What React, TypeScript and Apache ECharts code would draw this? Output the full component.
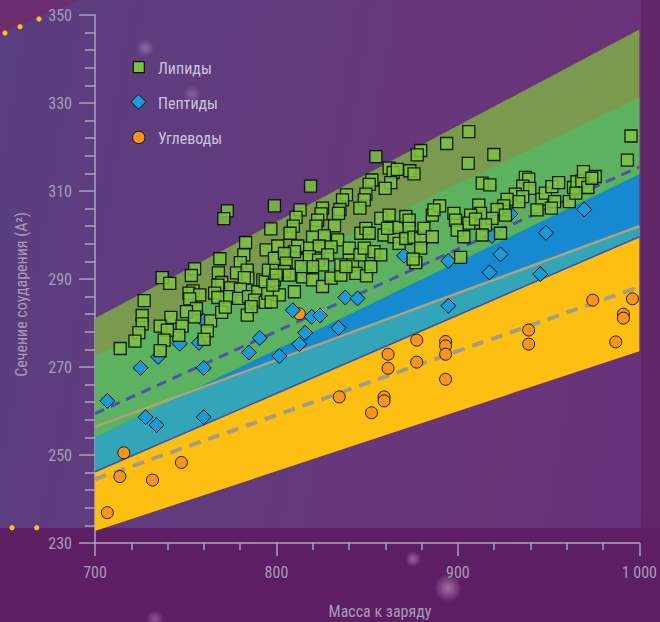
import React, { useEffect, useRef } from 'react';
import * as echarts from 'echarts';

// ---- axis ticks ----
const xTickValues = [700, 800, 900, 1000];
const xTickLabels = ['700', '800', '900', '1 000'];
const yTickValues = [230, 250, 270, 290, 310, 330, 350];

// ---- legend / axis names ----
const seriesNames = ['Липиды', 'Пептиды', 'Углеводы'];
const xAxisName = 'Масса к заряду';
const yAxisName = 'Сечение соударения (А²)';

// ---- bands (values at x = 700 and x = 1000) ----
const bandX = [700, 1000];
const oliveUpper = [281.1, 346.7];
const greenUpper = [272.5, 331.2];
const greenLower = [254.2, 314.0];
const blueUpper = [254.2, 314.0];
const blueLower = [246.2, 299.6];
const tanLine = [256.4, 302.0];
const yellowLower = [232.7, 273.6];

// ---- fit lines ----
const lipidFit = [259.4, 315.5];
const lipidUpperDash = [267.3, 330.5];
const carbFit = [244.5, 288.2];

// ---- points [mass, ccs] ----
const lipids = [
  [772.9,305.5],[771.0,303.7],[798.9,306.6],[796.9,301.4],[783.0,298.3],[782.0,295.5],[780.1,293.7],[768.8,294.6],[754.9,292.3],[753.1,290.8],[737.0,290.3],[741.2,289.0],[768.0,291.4],[778.0,291.4],[783.9,292.0],[784.2,290.2],[782.3,290.3],[769.8,289.2],[767.7,288.6],[754.0,287.3],[751.8,286.8],[757.7,286.4],[752.2,285.5],[727.1,285.1],[765.9,286.8],[767.7,285.8],[774.7,288.0],[774.2,286.0],[780.1,287.7],[779.1,285.6],[784.6,286.0],[789.7,287.1],[787.9,285.2],[793.8,284.7],[795.2,286.8],[801.6,286.4],[792.5,289.8],[793.8,289.4],[798.9,289.8],[795.6,292.0],[799.8,292.4],[794.3,296.6],[800.7,297.5],[798.9,294.7],[755.9,283.3],[750.4,282.6],[754.9,281.4],[741.8,281.3],[748.0,279.3],[746.2,277.2],[735.9,279.3],[739.9,278.4],[738.1,276.1],[735.9,273.7],[726.0,281.7],[726.0,279.8],[724.2,277.8],[722.0,275.9],[713.9,274.2],[763.7,280.5],[769.8,282.4],[771.8,283.6],[761.9,278.2],[760.1,276.3],[783.9,281.8],[786.1,283.7],
  [893.8,320.8],[879.5,319.2],[877.6,318.2],[854.8,317.8],[818.8,311.1],[862.1,315.2],[864.3,314.2],[866.6,314.9],[873.5,314.6],[875.8,313.9],[863.0,311.9],[859.9,310.6],[852.6,312.5],[851.1,311.5],[849.3,309.3],[848.4,308.0],[846.0,306.1],[838.6,309.1],[836.4,308.0],[835.0,305.8],[834.2,304.9],[825.4,306.1],[824.6,304.8],[813.0,305.7],[810.8,304.0],[809.3,302.0],[807.5,300.4],[822.7,303.4],[821.8,302.0],[832.0,302.1],[819.9,299.5],[826.4,299.8],[833.7,298.9],[817.2,297.0],[823.6,297.5],[830.1,297.3],[811.7,297.5],[809.9,296.2],[804.4,295.8],[805.3,293.6],[804.4,291.7],[799.8,290.9],[814.5,290.5],[819.9,289.8],[809.9,287.1],[825.4,288.3],[830.1,290.2],[835.5,290.9],[840.1,294.3],[840.1,297.0],[841.9,293.2],[843.8,291.3],[849.6,290.7],[852.0,292.8],[846.0,295.5],[848.4,297.0],[853.8,296.2],[857.5,295.5],[846.5,300.4],[849.3,301.5],[851.1,300.4],[857.5,303.8],[862.1,304.5],[859.3,300.0],[864.8,299.6],[861.2,301.5],[867.6,301.7],[871.3,304.2],[873.1,303.4],[873.1,301.5],[867.6,298.1],[871.3,299.2],[875.8,299.5],[879.5,299.2],[881.3,301.5],[885.9,299.6],[879.5,297.0],[876.8,293.7],[875.3,294.5],[885.9,304.5],[889.9,306.6],[886.8,305.7],[818.1,295.1],[823.2,294.3],[828.2,295.5],[835.5,293.2],[838.3,292.8],[825.4,293.2],[819.9,292.8],[813.6,292.8],[807.1,290.9],[798.0,288.6],[797.1,284.8],
  [995.4,322.5],[993.4,317.0],[906.0,323.5],[919.8,318.3],[905.7,316.3],[913.4,311.8],[917.6,311.4],[937.2,313.1],[939.0,312.7],[935.7,311.1],[939.6,310.6],[931.7,309.3],[935.7,308.7],[933.5,307.6],[927.1,308.1],[925.3,306.6],[921.6,305.8],[918.8,303.8],[926.2,304.5],[911.5,306.8],[912.5,304.9],[907.0,304.5],[906.0,302.7],[909.7,303.6],[915.2,302.3],[913.4,300.0],[923.5,300.4],[897.8,304.9],[898.7,303.4],[899.6,301.1],[903.3,299.6],[901.5,294.9],[946.3,308.1],[948.2,309.5],[951.8,311.0],[955.5,311.9],[953.3,307.6],[951.5,306.1],[943.6,305.7],[961.4,307.6],[963.7,310.8],[965.6,312.1],[968.3,312.3],[969.2,314.4],[971.6,310.8],[975.7,313.3],[973.8,312.9],[965.0,309.5]
];

const peptides = [
  [706.8,262.3],[725.1,269.8],[727.9,258.6],[733.9,256.8],[759.9,269.8],[759.9,258.6],[734.8,272.3],[746.7,275.3],[757.3,275.5],[759.9,280.5],[784.8,273.3],[790.8,276.6],[801.6,272.5],[812.6,275.2],[815.8,277.8],[819.4,281.4],[824.0,281.7],[809.0,282.9],[815.9,291.9],[837.9,285.8],[844.7,285.6],[870.3,295.3],[894.7,294.1],[894.7,283.9],[929.0,304.8],[918.8,299.8],[923.5,295.6],[917.4,291.5],[948.5,300.5],[945.4,291.1],[969.6,305.8],[834.2,278.9]
];

const carbs = [
  [706.8,236.9],[713.7,245.1],[715.9,250.5],[731.7,244.3],[747.6,248.3],[812.6,282.1],[834.6,263.2],[852.4,259.6],[859.3,263.2],[859.3,262.3],[861.5,272.9],[861.5,269.7],[877.3,276.1],[877.3,271.1],[893.2,275.8],[893.2,274.8],[893.2,272.9],[893.2,267.2],[939.0,278.4],[939.0,275.2],[974.3,285.2],[987.0,275.7],[991.2,282.0],[991.2,281.1],[996.2,285.5]
];

const FONT = "'Liberation Sans Narrow', 'Roboto Condensed', 'Arial Narrow', Roboto, sans-serif";
const AXIS_COLOR = '#aaa3bd';
const LABEL_COLOR = '#a59cba';
const LEGEND_TEXT = '#cbc2db';

const LIPID_FILL = 'rgba(125,194,66,0.85)';
const PEPTIDE_FILL = '#1c9ad6';
const CARB_FILL = '#f7941d';

const bands = [
  { upper: oliveUpper, lower: greenLower, color: '#7a9b4e' },
  { upper: tanLine, lower: yellowLower, color: '#fdbf12' },
  { upper: blueUpper, lower: blueLower, color: '#1689d0' },
  { upper: tanLine, lower: blueLower, color: '#32a6b8' },
  { upper: greenUpper, lower: greenLower, color: '#5db261' },
];

function lineData(vals: number[]) {
  return bandX.map((x, i) => [x, vals[i]]);
}

export default function App() {
  const ref = useRef<HTMLDivElement>(null);
  useEffect(() => {
    document.body.style.margin = '0';
    if (!ref.current) return;
    const chart = echarts.init(ref.current, undefined, { renderer: 'svg' });
    const bokeh = (x: number, y: number, r: number, a: number) => ({
      type: 'circle',
      shape: { cx: x, cy: y, r },
      style: {
        fill: new echarts.graphic.RadialGradient(0.5, 0.5, 0.5, [
          { offset: 0, color: `rgba(235,190,235,${a})` },
          { offset: 1, color: 'rgba(235,190,235,0)' },
        ]),
      },
      silent: true,
    });
    const option: any = {
      animation: false,
      backgroundColor: 'transparent',
      textStyle: { fontFamily: FONT },
      grid: { left: 95, right: 19, top: 15, bottom: 79 },
      xAxis: {
        type: 'value',
        min: 700,
        max: 1000,
        interval: 100,
        axisLine: { show: true, lineStyle: { color: AXIS_COLOR, width: 1.5 } },
        axisTick: { show: true, length: 13, lineStyle: { color: AXIS_COLOR, width: 1.5 } },
        minorTick: { show: true, splitNumber: 5, length: 7, lineStyle: { color: AXIS_COLOR, width: 1.5 } },
        splitLine: { show: false },
        axisLabel: {
          margin: 21,
          fontSize: 16,
          color: LABEL_COLOR,
          fontFamily: FONT,
          formatter: (v: number) => {
            const i = xTickValues.indexOf(v);
            return i >= 0 ? xTickLabels[i] : '';
          },
        },
      },
      yAxis: {
        type: 'value',
        min: yTickValues[0],
        max: yTickValues[yTickValues.length - 1],
        interval: 20,
        axisLine: { show: true, lineStyle: { color: AXIS_COLOR, width: 1.5 } },
        axisTick: { show: true, length: 16, lineStyle: { color: AXIS_COLOR, width: 1.5 } },
        minorTick: { show: true, splitNumber: 5, length: 10, lineStyle: { color: AXIS_COLOR, width: 1.5 } },
        splitLine: { show: false },
        axisLabel: { margin: 23, fontSize: 16, color: LABEL_COLOR, fontFamily: FONT },
      },
      series: [
        {
          type: 'custom',
          name: 'bands',
          silent: true,
          z: 1,
          data: bands.map((b, i) => [850, 290, i]),
          renderItem: (params: any, api: any) => {
            const b = bands[params.dataIndex];
            const pts: number[][] = [];
            bandX.forEach((x, i) => pts.push(api.coord([x, b.upper[i]])));
            for (let i = bandX.length - 1; i >= 0; i--) pts.push(api.coord([bandX[i], b.lower[i]]));
            return { type: 'polygon', z2: params.dataIndex, shape: { points: pts }, style: { fill: b.color } };
          },
        },
        {
          type: 'line', silent: true, z: 2, symbol: 'none', data: lineData(greenLower),
          lineStyle: { color: '#4cbb4e', width: 1.5 },
        },
        {
          type: 'line', silent: true, z: 2, symbol: 'none', data: lineData(lipidUpperDash),
          lineStyle: { color: '#4fc04f', width: 1.5, type: [14, 9] },
        },
        {
          type: 'line', silent: true, z: 2, symbol: 'none', data: lineData(tanLine),
          lineStyle: { color: '#b3a277', width: 2.5 },
        },
        {
          type: 'line', silent: true, z: 2, symbol: 'none', data: lineData(blueLower),
          lineStyle: { color: '#3f4db0', width: 1.5 },
        },
        {
          type: 'line', silent: true, z: 2, symbol: 'none', data: lineData(lipidFit),
          lineStyle: { color: '#4b52b0', width: 3, type: [10, 7] },
        },
        {
          type: 'line', silent: true, z: 2, symbol: 'none', data: lineData(carbFit),
          lineStyle: { color: '#a49d86', width: 4, type: [12, 8] },
        },
        {
          type: 'scatter', name: seriesNames[2], z: 3, data: carbs, symbol: 'circle', symbolSize: 12,
          itemStyle: { color: CARB_FILL, borderColor: '#1a1a1a', borderWidth: 1, opacity: 1 },
        },
        {
          type: 'scatter', name: seriesNames[1], z: 4, data: peptides, symbol: 'diamond', symbolSize: 15,
          itemStyle: { color: PEPTIDE_FILL, borderColor: '#111', borderWidth: 1, opacity: 1 },
        },
        {
          type: 'scatter', name: seriesNames[0], z: 5, data: lipids, symbol: 'rect', symbolSize: 12,
          itemStyle: { color: LIPID_FILL, borderColor: 'rgba(0,0,0,0.85)', borderWidth: 1.3, opacity: 1 },
        },
      ],
      graphic: {
        elements: [
          { type: 'polygon', shape: { points: [[0, 0], [80, 0], [0, 33]] }, style: { fill: '#6b2d6e' }, silent: true },
          { type: 'circle', shape: { cx: 5, cy: 33, r: 2.6 }, style: { fill: '#ffc20e' }, silent: true },
          { type: 'circle', shape: { cx: 20, cy: 26.7, r: 2.6 }, style: { fill: '#ffc20e' }, silent: true },
          { type: 'circle', shape: { cx: 39, cy: 19, r: 2.6 }, style: { fill: '#ffc20e' }, silent: true },
          { type: 'circle', shape: { cx: 12, cy: 527.7, r: 2.6 }, style: { fill: '#ffc20e' }, silent: true },
          { type: 'circle', shape: { cx: 36.7, cy: 527.7, r: 2.6 }, style: { fill: '#ffc20e' }, silent: true },
          bokeh(145, 48, 9, 0.35),
          bokeh(192, 94, 9, 0.3),
          bokeh(413, 559, 8, 0.45),
          bokeh(448, 588, 14, 0.5),
          bokeh(155, 619, 9, 0.35),
          // legend
          { type: 'rect', shape: { x: 133.3, y: 61.7, width: 11, height: 11 }, style: { fill: '#7dc242', stroke: '#111', lineWidth: 1.2 } },
          { type: 'polygon', shape: { points: [[138.5, 94.2], [146, 101.7], [138.5, 109.2], [131, 101.7]] }, style: { fill: PEPTIDE_FILL, stroke: '#111', lineWidth: 1 } },
          { type: 'circle', shape: { cx: 138.8, cy: 137.5, r: 6.2 }, style: { fill: CARB_FILL, stroke: '#111', lineWidth: 1 } },
          { type: 'text', x: 158, y: 68.5, style: { text: seriesNames[0], fill: LEGEND_TEXT, font: `16px ${FONT}`, textVerticalAlign: 'middle', verticalAlign: 'middle' } },
          { type: 'text', x: 158, y: 103, style: { text: seriesNames[1], fill: LEGEND_TEXT, font: `16px ${FONT}`, textVerticalAlign: 'middle', verticalAlign: 'middle' } },
          { type: 'text', x: 158, y: 138, style: { text: seriesNames[2], fill: LEGEND_TEXT, font: `16px ${FONT}`, textVerticalAlign: 'middle', verticalAlign: 'middle' } },
          // axis names
          { type: 'text', x: 380, y: 611, style: { text: xAxisName, fill: LABEL_COLOR, font: `16px ${FONT}`, align: 'center', verticalAlign: 'middle' } },
          { type: 'text', x: 21, y: 294.5, rotation: Math.PI / 2, style: { text: yAxisName, fill: LABEL_COLOR, font: `16px ${FONT}`, align: 'center', verticalAlign: 'middle' } },
        ],
      },
    };
    chart.setOption(option);
    return () => chart.dispose();
  }, []);

  const bg = [
    'linear-gradient(to bottom, rgba(0,0,0,0) 528px, #5e1e63 528px)',
    'linear-gradient(to right, rgba(0,0,0,0) 641px, #612568 641px)',
    'linear-gradient(100deg, #593e80 0%, #633b7d 40%, #6a3479 75%, #66307a 100%)',
  ].join(', ');

  return (
    <div style={{ width: 660, height: 622, background: bg, position: 'relative', overflow: 'hidden' }}>
      <div ref={ref} style={{ width: 660, height: 622 }} />
    </div>
  );
}
